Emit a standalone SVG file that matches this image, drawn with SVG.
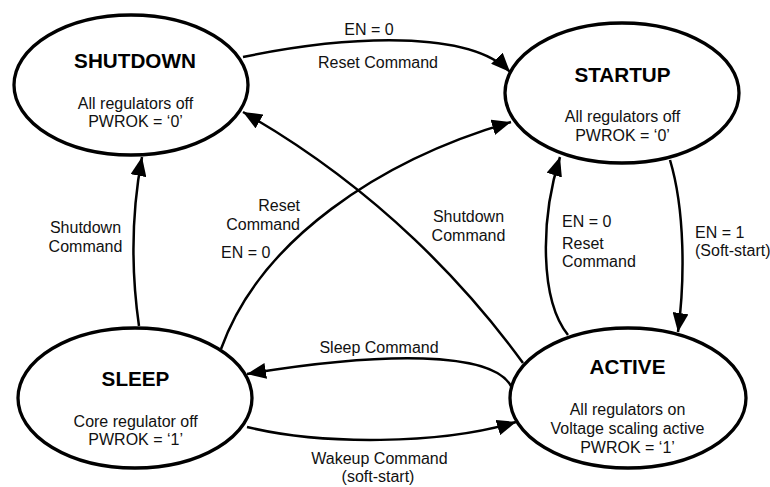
<svg xmlns="http://www.w3.org/2000/svg" width="770" height="487" viewBox="0 0 770 487">
<style>
.node{fill:#fff;stroke:#000;stroke-width:3.3}
.title{font-family:"Liberation Sans",Arial,sans-serif;font-size:20.7px;font-weight:bold;text-anchor:middle;fill:#000}
.body{font-family:"Liberation Sans",Arial,sans-serif;font-size:16px;text-anchor:middle;fill:#111}
.lbl{font-family:"Liberation Sans",Arial,sans-serif;font-size:16px;fill:#111}
.edge{fill:none;stroke:#000;stroke-width:2.5}
</style>
<defs>
<marker id="arr" markerUnits="userSpaceOnUse" markerWidth="20" markerHeight="16" refX="19" refY="8" orient="auto">
<path d="M0,0 L19,8 L0,16 z" fill="#000"/>
</marker>
</defs>
<g id="connectors">
<path class="edge" d="M243,57 C350,35 470,30 510,72" marker-end="url(#arr)"/>
<path class="edge" d="M139,326 C131,270 132,210 142,157" marker-end="url(#arr)"/>
<path class="edge" d="M221,349 C260,240 380,160 511,122" marker-end="url(#arr)"/>
<path class="edge" d="M523,363 C470,290 380,190 243,112" marker-end="url(#arr)"/>
<path class="edge" d="M670,160 C685,210 685,280 678,332" marker-end="url(#arr)"/>
<path class="edge" d="M568,335 C540,300 540,220 560,157" marker-end="url(#arr)"/>
<path class="edge" d="M512,388 C495,350 380,352 247,374" marker-end="url(#arr)"/>
<path class="edge" d="M247,427 C320,445 440,445 516,422" marker-end="url(#arr)"/>
<text class="lbl" x="369" y="35" text-anchor="middle">EN = 0</text>
<text class="lbl" x="378" y="68" text-anchor="middle">Reset Command</text>
<text class="lbl" x="85.5" y="233" text-anchor="middle">Shutdown</text>
<text class="lbl" x="85.5" y="252" text-anchor="middle">Command</text>
<text class="lbl" x="300" y="211" text-anchor="end">Reset</text>
<text class="lbl" x="300" y="230" text-anchor="end">Command</text>
<text class="lbl" x="221" y="258">EN = 0</text>
<text class="lbl" x="468.5" y="222" text-anchor="middle">Shutdown</text>
<text class="lbl" x="468.5" y="241" text-anchor="middle">Command</text>
<text class="lbl" x="562" y="227">EN = 0</text>
<text class="lbl" x="562" y="249">Reset</text>
<text class="lbl" x="562" y="267">Command</text>
<text class="lbl" x="695" y="238">EN = 1</text>
<text class="lbl" x="695" y="256">(Soft-start)</text>
<text class="lbl" x="379" y="353" text-anchor="middle">Sleep Command</text>
<text class="lbl" x="379.5" y="464" text-anchor="middle">Wakeup Command</text>
<text class="lbl" x="378" y="482" text-anchor="middle">(soft-start)</text>
</g>
<g id="shutdown">
<ellipse class="node" cx="131" cy="85" rx="117" ry="70"/>
<text class="title" x="135" y="68">SHUTDOWN</text>
<text class="body" x="135.5" y="109">All regulators off</text>
<text class="body" x="135.5" y="127">PWROK = ‘0’</text>
</g>
<g id="startup">
<ellipse class="node" cx="622" cy="93" rx="117" ry="70"/>
<text class="title" x="622.5" y="82">STARTUP</text>
<text class="body" x="622.5" y="122">All regulators off</text>
<text class="body" x="622.5" y="141">PWROK = ‘0’</text>
</g>
<g id="sleep">
<ellipse class="node" cx="135" cy="398" rx="117" ry="70"/>
<text class="title" x="135.5" y="386">SLEEP</text>
<text class="body" x="135.7" y="427">Core regulator off</text>
<text class="body" x="135.7" y="445">PWROK = ‘1’</text>
</g>
<g id="active">
<ellipse class="node" cx="628" cy="398" rx="118" ry="70"/>
<text class="title" x="627.5" y="374">ACTIVE</text>
<text class="body" x="627.5" y="415">All regulators on</text>
<text class="body" x="627.5" y="434">Voltage scaling active</text>
<text class="body" x="627.5" y="453">PWROK = ‘1’</text>
</g>
</svg>
